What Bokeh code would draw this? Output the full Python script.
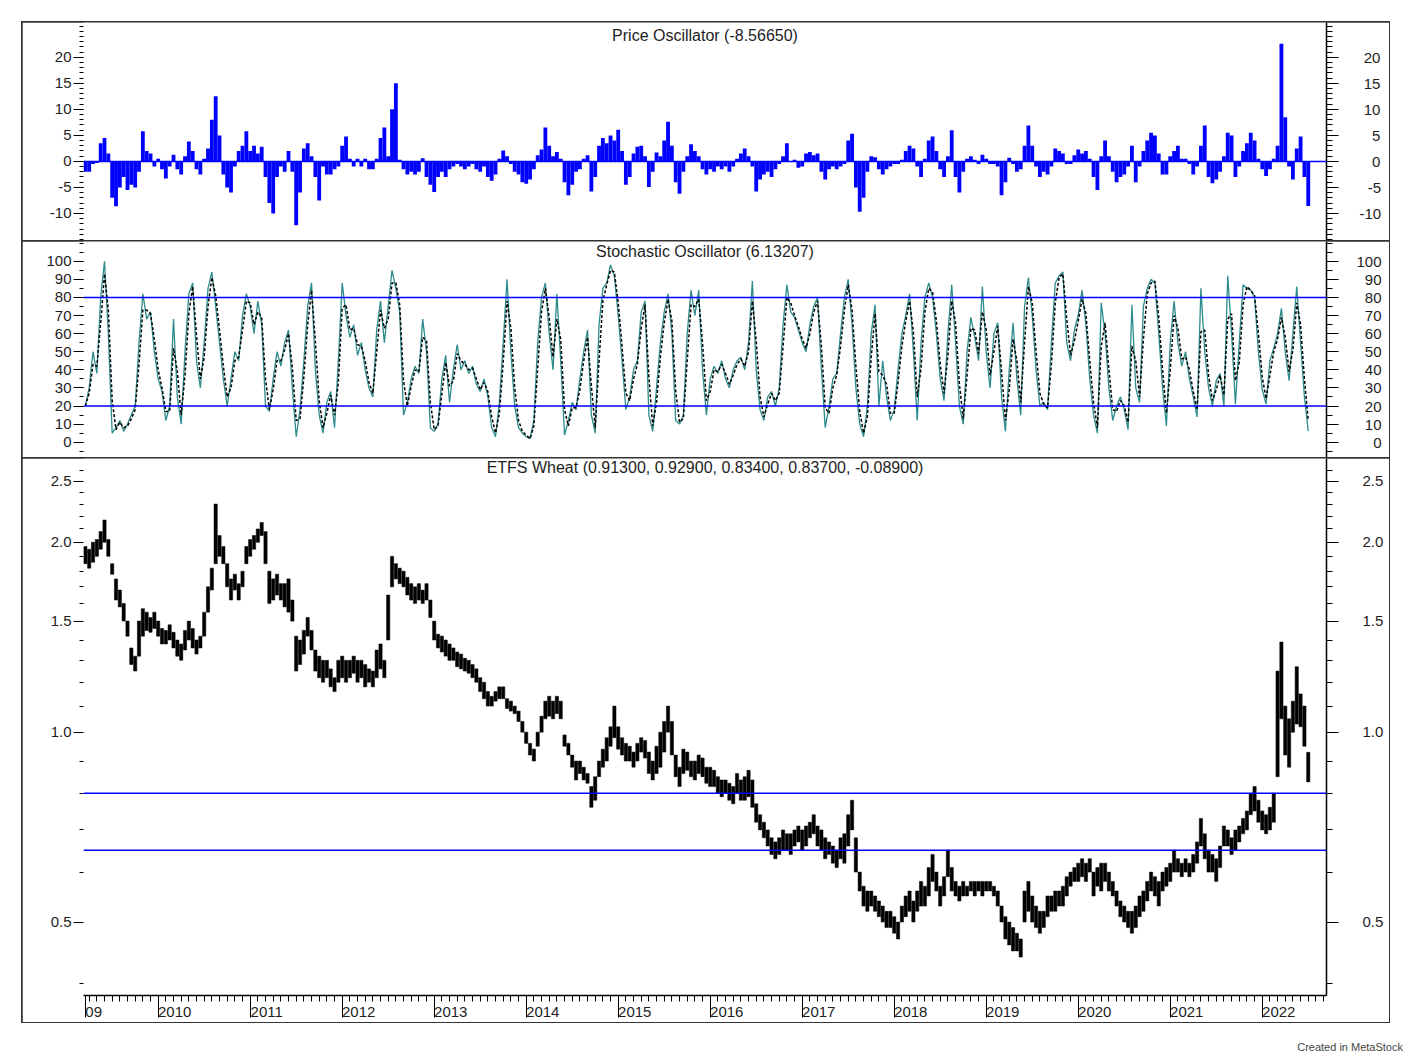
import numpy as np
from bokeh.plotting import figure
from bokeh.models import (Range1d, LinearAxis, LogAxis, FixedTicker, Span, Label, Div)
from bokeh.layouts import column
from bokeh.embed import file_html
from bokeh.resources import INLINE

# ---------------- data (semi-monthly samples, first one mid-March 2009) ----------------
START_YEAR = 2009.21
STEP = 1.0 / 24

price_low = [
    1.85, 1.82, 1.86, 1.9, 1.95, 2.0, 1.9, 1.78, 1.62, 1.58, 1.5, 1.42, 1.28, 1.25, 1.32, 1.42, 1.45, 1.44, 1.46,
    1.42, 1.38, 1.38, 1.4, 1.36, 1.32, 1.3, 1.35, 1.4, 1.36, 1.33, 1.36, 1.42, 1.55, 1.68, 1.85, 1.9, 1.85, 1.7, 1.62, 1.68, 1.62, 1.7, 1.85,
    1.9, 1.95, 2.0, 2.05, 1.85, 1.6, 1.62, 1.65, 1.62, 1.58, 1.55, 1.5, 1.25, 1.28, 1.33, 1.42, 1.35, 1.25, 1.22, 1.2, 1.22, 1.18, 1.16, 1.2,
    1.22, 1.2, 1.22, 1.24, 1.2, 1.22, 1.18, 1.2, 1.18, 1.22, 1.26, 1.22, 1.4, 1.7, 1.75, 1.72, 1.7, 1.65, 1.62, 1.6, 1.62, 1.6, 1.62, 1.52,
    1.4, 1.36, 1.34, 1.32, 1.3, 1.3, 1.27, 1.26, 1.25, 1.24, 1.22, 1.2, 1.16, 1.13, 1.1, 1.1, 1.12, 1.13, 1.13, 1.09, 1.08, 1.07, 1.04, 1.0,
    0.96, 0.92, 0.9, 0.95, 1.0, 1.05, 1.06, 1.05, 1.07, 1.05, 0.95, 0.92, 0.88, 0.84, 0.86, 0.84, 0.83, 0.76, 0.78, 0.85, 0.88, 0.9, 0.95, 0.98,
    0.94, 0.92, 0.9, 0.9, 0.88, 0.9, 0.93, 0.91, 0.86, 0.84, 0.86, 0.88, 0.93, 1.0, 0.92, 0.85, 0.82, 0.86, 0.87, 0.85, 0.84, 0.86, 0.85, 0.83,
    0.82, 0.82, 0.8, 0.79, 0.8, 0.78, 0.77, 0.8, 0.78, 0.78, 0.79, 0.76, 0.72, 0.7, 0.68, 0.66, 0.64, 0.63, 0.64, 0.65, 0.65, 0.64, 0.66, 0.67,
    0.65, 0.66, 0.68, 0.69, 0.66, 0.65, 0.63, 0.64, 0.62, 0.61, 0.63, 0.62, 0.66, 0.7, 0.6, 0.56, 0.53, 0.52, 0.53, 0.52, 0.51, 0.5, 0.49, 0.49,
    0.48, 0.47, 0.5, 0.51, 0.52, 0.5, 0.52, 0.53, 0.53, 0.55, 0.58, 0.56, 0.53, 0.55, 0.59, 0.56, 0.55, 0.54, 0.55, 0.55, 0.56, 0.55, 0.56, 0.55,
    0.56, 0.56, 0.55, 0.53, 0.5, 0.47, 0.46, 0.45, 0.45, 0.44, 0.5, 0.52, 0.5, 0.49, 0.48, 0.49, 0.51, 0.52, 0.52, 0.53, 0.53, 0.55, 0.57, 0.58,
    0.58, 0.59, 0.58, 0.6, 0.55, 0.57, 0.56, 0.58, 0.56, 0.55, 0.53, 0.51, 0.5, 0.49, 0.48, 0.49, 0.51, 0.52, 0.54, 0.56, 0.55, 0.53, 0.56, 0.57,
    0.58, 0.6, 0.6, 0.59, 0.6, 0.59, 0.6, 0.62, 0.66, 0.63, 0.6, 0.6, 0.58, 0.61, 0.66, 0.66, 0.64, 0.65, 0.67, 0.69, 0.7, 0.74, 0.75, 0.72,
    0.7, 0.69, 0.7, 0.72, 0.85, 1.05, 0.92, 0.88, 1.0, 1.03, 1.02, 0.95, 0.834,
]
price_high = [
    1.97, 1.95, 2.0, 2.02, 2.08, 2.17, 2.02, 1.85, 1.75, 1.68, 1.6, 1.5, 1.36, 1.32, 1.5, 1.57, 1.55, 1.52, 1.55,
    1.5, 1.46, 1.45, 1.48, 1.44, 1.4, 1.38, 1.45, 1.5, 1.46, 1.4, 1.42, 1.55, 1.7, 1.82, 2.3, 2.05, 1.97, 1.85, 1.75, 1.78, 1.72, 1.8, 1.97,
    2.02, 2.05, 2.1, 2.15, 2.08, 1.8, 1.75, 1.78, 1.72, 1.72, 1.75, 1.62, 1.42, 1.4, 1.45, 1.52, 1.45, 1.35, 1.32, 1.3, 1.3, 1.26, 1.22, 1.3,
    1.32, 1.3, 1.3, 1.32, 1.3, 1.3, 1.28, 1.26, 1.25, 1.35, 1.38, 1.3, 1.65, 1.9, 1.85, 1.82, 1.8, 1.76, 1.72, 1.7, 1.72, 1.68, 1.72, 1.62,
    1.5, 1.43, 1.42, 1.4, 1.38, 1.36, 1.34, 1.33, 1.31, 1.3, 1.28, 1.26, 1.22, 1.2, 1.16, 1.14, 1.16, 1.18, 1.18, 1.13, 1.12, 1.1, 1.08, 1.04,
    1.0, 0.96, 0.94, 1.0, 1.06, 1.12, 1.14, 1.12, 1.14, 1.12, 0.99, 0.96, 0.92, 0.9, 0.9, 0.88, 0.86, 0.82, 0.85, 0.9, 0.94, 0.98, 1.02, 1.1,
    1.02, 0.98, 0.96, 0.95, 0.93, 0.96, 0.98, 0.97, 0.93, 0.9, 0.95, 1.0, 1.04, 1.1, 1.04, 0.92, 0.88, 0.94, 0.93, 0.9, 0.9, 0.92, 0.91, 0.88,
    0.88, 0.87, 0.85, 0.84, 0.84, 0.83, 0.82, 0.86, 0.84, 0.85, 0.87, 0.84, 0.77, 0.74, 0.72, 0.7, 0.68, 0.67, 0.68, 0.7, 0.69, 0.69, 0.7, 0.71,
    0.7, 0.71, 0.72, 0.74, 0.71, 0.7, 0.68, 0.67, 0.66, 0.65, 0.68, 0.69, 0.74, 0.78, 0.68, 0.6, 0.57, 0.56, 0.56, 0.55, 0.54, 0.53, 0.52, 0.52,
    0.51, 0.5, 0.53, 0.55, 0.56, 0.54, 0.56, 0.58, 0.57, 0.61, 0.64, 0.6, 0.57, 0.59, 0.65, 0.61, 0.58, 0.57, 0.58, 0.57, 0.58, 0.58, 0.58, 0.58,
    0.58, 0.58, 0.57, 0.56, 0.53, 0.51, 0.5, 0.49, 0.48, 0.47, 0.56, 0.58, 0.55, 0.53, 0.52, 0.52, 0.55, 0.55, 0.56, 0.56, 0.57, 0.59, 0.6, 0.61,
    0.62, 0.63, 0.62, 0.63, 0.6, 0.61, 0.62, 0.62, 0.6, 0.58, 0.56, 0.54, 0.53, 0.52, 0.52, 0.53, 0.55, 0.56, 0.58, 0.6, 0.59, 0.58, 0.6, 0.61,
    0.62, 0.65, 0.63, 0.62, 0.63, 0.62, 0.64, 0.67, 0.73, 0.69, 0.65, 0.64, 0.63, 0.66, 0.71, 0.7, 0.68, 0.7, 0.71, 0.73, 0.75, 0.8, 0.82, 0.78,
    0.75, 0.74, 0.76, 0.8, 1.25, 1.39, 1.1, 1.05, 1.12, 1.27, 1.15, 1.1, 0.929,
]
price_osc = [
    -2, -2, -0.5, -0.3, 3.5, 4.5, 1.5, -7, -8.6, -5, -3, -5.5, -4.5, -5, -2, 5.8, 2, 1.5, -1,
    0.5, -1.5, -3.3, -1, 1.3, -1.5, -2.5, 1, 3.8, 2, -1.5, -2.5, 0.5, 2.5, 8, 12.5, 5, -2.5, -5, -6, -1, 2, 3, 5.8,
    2, 3, 1.5, 2.8, -3, -8, -10, -3, -1, -2, 2, -2, -12.3, -6, 2.5, 3.5, 1, -3, -7.5, -1, -2.5, -2.5, -1.5, -1,
    3, 4.8, 0.5, -1, 0.5, -1, 0.5, -1.5, -1.5, 0.5, 4.5, 6.5, 1, 10, 15, 0.3, -1.5, -2.5, -2, -2.5, -2, 0.6, -3, -4.5,
    -5.9, -3, -2, -3, -1.5, -1, -0.5, -1, -1.5, -1, -0.5, -1.5, -2, -1, -3, -3.7, -2.5, 0.5, 2.1, 1, -0.5, -2, -2.5, -4,
    -4.3, -3.5, -1.5, 1.2, 2.3, 6.5, 3, 1, 1.8, 0.5, -4, -6.5, -4.5, -2, -1.5, 0.5, 1.2, -5.8, -3, 3, 4.5, 3.5, 5, 4,
    6.1, 2, -4.5, -3, 1.5, 2.8, 3, 1, -4.9, -2, 1.7, 1, 4, 7.6, 3, -4, -6.2, -2, 1, 3.3, 2, 1, -1.5, -2.5,
    -1.5, -2, -1, -1.5, -1, -2, -1, 0.5, 1.5, 2.5, 1, -1, -5.8, -3.5, -2.5, -2, -3, -1.5, -0.5, 1, 3.5, 0, 0.3, -1.2,
    -1, 1.5, 1.8, 1.2, 1.5, -2, -3.5, -1.5, -1, -1.5, -1, -0.5, 4, 5.3, -5, -9.7, -7, -2, 1, 0.8, -1.5, -2.5, -1.5, -1,
    -0.5, -0.5, 0.3, 2, 3, 2.5, -1, -3, 0.5, 4, 4.8, 2, -1.5, -3, 1, 6, -3, -6, -2, 0.5, 1, 0.3, -0.5, 1.3,
    0.5, -0.5, -0.5, -1, -6.5, -4, 0.7, -0.5, -2, -1.5, 3, 6.9, 3, -1, -3, -2, -2.5, -1, 2.5, 2, 1.5, -0.5, -0.5, 1.2,
    2.3, 1.5, 2, 0.5, -3, -5.5, 1, 4, 1, -2, -4, -3, -2.5, -1, 3, -4, -1, 2, 4, 5.5, 5, 1.5, -2.5, -2.5,
    1, 2, 3, 0.5, 0.5, -0.5, -2.5, -1, 3, 6.9, -3, -4.2, -3.5, -2, 1, 5.5, 5, -3, -1, 2, 3.5, 5.5, 4, 0.5,
    -1.5, -2.8, -1.5, 0.5, 3, 22.6, 8.5, -1, -3.5, 2.5, 4.8, -3, -8.5665,
]
stoch_k = [
    20, 30, 50, 38, 80, 100, 60, 5, 8, 12, 6, 10, 15, 20, 55, 82, 68, 72, 50,
    35, 28, 12, 20, 68, 25, 10, 50, 82, 88, 45, 30, 55, 85, 94, 75, 55, 35, 20, 35, 50, 45, 70, 82,
    75, 60, 78, 65, 20, 17, 35, 50, 42, 55, 62, 30, 3, 18, 45, 75, 88, 40, 15, 5, 22, 28, 8, 45,
    88, 70, 58, 65, 48, 55, 40, 30, 25, 62, 78, 55, 75, 95, 85, 72, 15, 22, 35, 42, 38, 68, 50, 8,
    6, 10, 35, 48, 22, 40, 54, 40, 45, 38, 42, 32, 28, 35, 25, 8, 3, 22, 55, 90, 50, 20, 8, 5,
    3, 2, 12, 55, 80, 88, 60, 40, 82, 45, 4, 12, 22, 18, 35, 50, 62, 15, 5, 65, 85, 88, 98, 92,
    70, 45, 18, 25, 40, 45, 72, 78, 15, 6, 30, 55, 72, 82, 60, 12, 10, 15, 60, 84, 70, 84, 40, 15,
    35, 42, 38, 45, 35, 30, 40, 45, 47, 40, 55, 89, 40, 18, 12, 25, 28, 20, 30, 65, 87, 72, 69, 62,
    55, 50, 65, 75, 80, 40, 8, 20, 35, 38, 60, 80, 90, 65, 30, 10, 3, 20, 60, 76, 20, 45, 25, 12,
    18, 40, 60, 70, 82, 50, 12, 55, 80, 88, 80, 60, 35, 23, 60, 87, 55, 20, 10, 50, 69, 58, 45, 86,
    50, 30, 60, 66, 25, 6, 40, 66, 35, 15, 75, 91, 70, 40, 20, 22, 18, 55, 88, 92, 94, 55, 45, 62,
    70, 84, 65, 35, 15, 5, 77, 60, 30, 12, 20, 25, 18, 7, 76, 30, 22, 75, 85, 90, 88, 60, 30, 9,
    55, 78, 55, 42, 50, 35, 25, 14, 85, 50, 30, 20, 34, 38, 20, 92, 60, 21, 55, 87, 85, 84, 80, 50,
    29, 21, 45, 52, 60, 74, 50, 34, 60, 86, 55, 25, 6.13,
]
stoch_d = [
    20, 27, 43, 42, 66, 93, 73, 23, 7, 11, 8, 9, 13, 18, 43, 73, 73, 71, 57,
    40, 30, 17, 17, 52, 39, 15, 37, 71, 86, 59, 35, 47, 75, 91, 81, 62, 42, 25, 30, 45, 47, 62, 78,
    77, 65, 72, 69, 35, 18, 29, 45, 45, 51, 60, 41, 12, 13, 36, 65, 84, 56, 23, 8, 16, 26, 15, 33,
    74, 76, 62, 63, 54, 53, 45, 33, 27, 50, 73, 63, 68, 88, 88, 76, 34, 20, 31, 40, 39, 58, 56, 22,
    7, 9, 27, 44, 31, 34, 49, 45, 43, 40, 41, 35, 29, 33, 28, 14, 5, 16, 44, 78, 63, 30, 12, 6,
    4, 2, 9, 41, 72, 85, 69, 47, 68, 57, 18, 9, 19, 19, 29, 45, 58, 31, 8, 45, 78, 87, 95, 94,
    77, 53, 27, 23, 35, 43, 63, 76, 36, 9, 22, 47, 66, 79, 67, 28, 11, 13, 45, 76, 75, 79, 55, 23,
    28, 40, 39, 43, 38, 32, 37, 43, 46, 42, 50, 78, 56, 25, 14, 21, 27, 23, 27, 53, 80, 77, 70, 64,
    57, 52, 60, 72, 78, 53, 19, 16, 30, 37, 53, 73, 87, 73, 42, 17, 5, 14, 47, 71, 39, 37, 32, 16,
    16, 33, 53, 67, 78, 61, 25, 41, 72, 85, 83, 67, 43, 27, 48, 78, 66, 32, 13, 37, 63, 62, 49, 72,
    62, 37, 50, 64, 39, 12, 29, 57, 45, 22, 55, 86, 77, 50, 27, 21, 19, 43, 77, 91, 93, 68, 48, 56,
    67, 79, 71, 45, 22, 8, 53, 66, 40, 18, 17, 23, 20, 11, 53, 45, 25, 57, 82, 88, 89, 69, 40, 16,
    40, 70, 63, 46, 47, 40, 28, 18, 61, 62, 37, 23, 29, 37, 26, 68, 71, 34, 44, 76, 86, 84, 81, 60,
    36, 24, 37, 50, 57, 69, 58, 39, 51, 77, 65, 35, 12,
]
stoch_levels = [80, 20]
price_levels = [0.80, 0.65]

osc_ticks = [-10, -5, 0, 5, 10, 15, 20]
stoch_ticks = [0, 10, 20, 30, 40, 50, 60, 70, 80, 90, 100]
price_ticks = [0.5, 1.0, 1.5, 2.0, 2.5]
price_tick_labels = ["0.5", "1.0", "1.5", "2.0", "2.5"]
year_ticks = [2009.21] + list(range(2010, 2023))
year_labels = ["09"] + [str(y) for y in range(2010, 2023)]

osc_title = "Price Oscillator (-8.56650)"
stoch_title = "Stochastic Oscillator (6.13207)"
price_title = "ETFS Wheat (0.91300, 0.92900, 0.83400, 0.83700, -0.08900)"
credit = "Created in MetaStock"

# ---------------- styling ----------------
FONT = "Liberation Sans"
LBL_SIZE = "15px"
TITLE_SIZE = "16px"
TXT = "#1e1e1e"
BLUE = "#0000FF"
TEAL = "#2E8B8B"
W = 1367                  # box width
MB_L, MB_R = 61, 63       # space left / right of the plotting frame
X_RANGE = Range1d(2009.19, 2022.70)
FIG = "\u2007"    # figure space (digit width)
PUNCT = "\u2008"  # punctuation space (~ width of '-')
BOX = {"outline": "2px solid #333333", "outline-offset": "-1px"}


def xs(n):
    return START_YEAR + np.arange(n) * STEP


def base_fig(height, y_range, bottom, log=False):
    p = figure(width=W, height=height, x_range=X_RANGE, y_range=y_range,
               x_axis_location=None, y_axis_location=None,
               y_axis_type="log" if log else "linear",
               toolbar_location=None, output_backend="svg",
               min_border_left=MB_L, min_border_right=MB_R,
               min_border_top=0, min_border_bottom=bottom,
               outline_line_color=None, background_fill_color="white",
               border_fill_color="white", styles=BOX)
    p.xgrid.visible = False
    p.ygrid.visible = False
    return p


def add_y_axes(p, ticks, minor, left_lab, right_lab, right_standoff, log=False):
    Axis = LogAxis if log else LinearAxis
    common = dict(major_label_text_font=FONT, major_label_text_font_size=LBL_SIZE,
                  major_label_text_color=TXT, major_tick_in=0, minor_tick_in=0,
                  major_tick_line_color="black", minor_tick_line_color="black",
                  major_tick_line_width=1, minor_tick_line_width=1)
    la = Axis(ticker=FixedTicker(ticks=ticks, minor_ticks=minor),
              major_label_overrides=dict(zip(ticks, left_lab)),
              axis_line_color=None, major_tick_out=10, minor_tick_out=4,
              major_label_standoff=2, **common)
    ra = Axis(ticker=FixedTicker(ticks=ticks, minor_ticks=minor),
              major_label_overrides=dict(zip(ticks, right_lab)),
              axis_line_color="black", axis_line_width=1.5,
              major_tick_out=12, minor_tick_out=6,
              major_label_standoff=right_standoff, **common)
    p.add_layout(la, "left")
    p.add_layout(ra, "right")


def title_label(p, y, text):
    p.add_layout(Label(x=(X_RANGE.start + X_RANGE.end) / 2, y=y, text=text,
                       text_align="center", text_baseline="middle",
                       text_font=FONT, text_font_size=TITLE_SIZE, text_color=TXT))


def rpad(labels, widest):
    out = []
    for s in labels:
        digits_needed = sum(c.isdigit() for c in widest) - sum(c.isdigit() for c in s)
        dash_needed = widest.count("-") - s.count("-")
        out.append(PUNCT * max(dash_needed, 0) + FIG * max(digits_needed, 0) + s)
    return out


# ---------------- panel 1: price oscillator ----------------
H1 = 219
y1 = Range1d(-15.4, 26.7)
p1 = base_fig(H1, y1, 0)
p1.vbar(x=xs(len(price_osc)), top=price_osc, bottom=0, width=STEP,
        fill_color=BLUE, line_color=None)
p1.add_layout(Span(location=0, dimension="width", line_color=BLUE, line_width=1.5))
osc_lab = [str(t) for t in osc_ticks]
add_y_axes(p1, osc_ticks, list(range(-15, 27)), osc_lab, rpad(osc_lab, "-10"), 21)
title_label(p1, y1.end - (13 / 219) * (y1.end - y1.start), osc_title)

# ---------------- panel 2: stochastic ----------------
H2 = 217
y2 = Range1d(-9.0, 110.9)
p2 = base_fig(H2, y2, 0)
for lvl in stoch_levels:
    p2.add_layout(Span(location=lvl, dimension="width", line_color=BLUE, line_width=1.5))
p2.line(xs(len(stoch_k)), stoch_k, line_color=TEAL, line_width=1.3)
p2.line(xs(len(stoch_d)), stoch_d, line_color="black", line_width=1.5, line_dash="3 2")
st_lab = [str(t) for t in stoch_ticks]
add_y_axes(p2, stoch_ticks, list(range(-5, 111, 5)), st_lab, rpad(st_lab, "100"), 18)
title_label(p2, y2.end - (10 / 217) * (y2.end - y2.start), stoch_title)

# ---------------- panel 3: price (log) ----------------
H3 = 564
y3 = Range1d(0.3824, 2.716)
p3 = base_fig(H3, y3, 25, log=True)
for lvl in price_levels:
    p3.add_layout(Span(location=lvl, dimension="width", line_color=BLUE, line_width=1.5))
p3.vbar(x=xs(len(price_high)), top=price_high, bottom=price_low, width=STEP * 0.85,
        fill_color="black", line_color="black", line_width=0.5)
minor_price = [round(0.1 * k, 1) for k in range(4, 27) if k % 5 != 0]
add_y_axes(p3, price_ticks, minor_price, price_tick_labels, price_tick_labels, 24, log=True)
lt, lb = np.log10(y3.end), np.log10(y3.start)
title_label(p3, 10 ** (lt - (9 / 539) * (lt - lb)), price_title)

month_ticks = [y + m / 12 for y in range(2009, 2023) for m in range(1, 12)
               if X_RANGE.start + 0.05 < y + m / 12 < X_RANGE.end]
xa = LinearAxis(ticker=FixedTicker(ticks=year_ticks, minor_ticks=month_ticks),
                major_label_overrides={t: FIG * len(s) + s for t, s in zip(year_ticks, year_labels)},
                axis_line_color="black", axis_line_width=1.5,
                major_tick_out=22, major_tick_in=0, minor_tick_out=6, minor_tick_in=0,
                major_tick_line_color="black", minor_tick_line_color="black",
                major_label_standoff=-15,
                major_label_text_font=FONT, major_label_text_font_size=LBL_SIZE,
                major_label_text_color=TXT)
p3.add_layout(xa, "below")

credit_div = Div(text=credit, width=W + 9, height=36,
                 styles={"font-family": FONT, "font-size": "11px", "color": "#444444",
                         "text-align": "right", "padding-top": "13px"})

charts = column(p1, p2, p3, spacing=0)
layout = column(charts, credit_div, spacing=0, margin=(22, 0, 0, 22))
open("out.html", "w").write(file_html(layout, INLINE))
